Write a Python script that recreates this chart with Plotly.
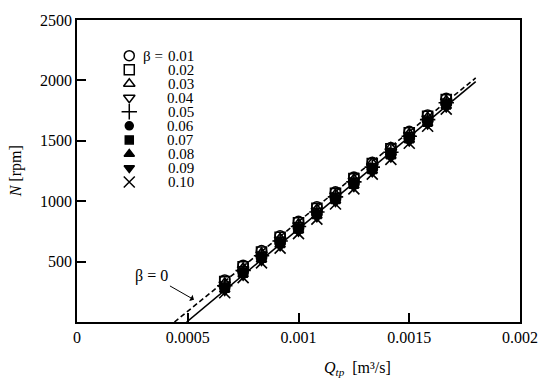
import plotly.graph_objects as go

# ---- data ----
q_vals = [0.000667, 0.00075, 0.000833, 0.000917, 0.001, 0.001083, 0.001167,
          0.00125, 0.001333, 0.001417, 0.0015, 0.001583, 0.001667]
betas = ["0.01", "0.02", "0.03", "0.04", "0.05", "0.06", "0.07", "0.08", "0.09", "0.10"]
n_b01 = [348, 470, 592, 714, 834, 954, 1077, 1199, 1322, 1444, 1578, 1714, 1852]
n_b02 = [334, 457, 579, 701, 821, 941, 1065, 1187, 1311, 1433, 1567, 1703, 1841]
n_b03 = [322, 447, 570, 692, 812, 933, 1058, 1182, 1318, 1445, 1560, 1695, 1834]
n_b04 = [310, 436, 558, 680, 800, 920, 1046, 1170, 1292, 1415, 1548, 1685, 1825]
n_b05 = [300, 426, 548, 670, 790, 910, 1036, 1160, 1282, 1405, 1538, 1675, 1815]
n_b06 = [290, 416, 538, 660, 780, 900, 1026, 1150, 1272, 1395, 1528, 1665, 1806]
n_b07 = [280, 405, 528, 650, 770, 890, 1015, 1140, 1262, 1385, 1518, 1655, 1797]
n_b08 = [270, 395, 518, 640, 760, 880, 1005, 1130, 1252, 1375, 1508, 1646, 1788]
n_b09 = [258, 383, 506, 628, 748, 868, 993, 1118, 1240, 1362, 1495, 1635, 1777]
n_b10 = [242, 367, 490, 612, 732, 852, 977, 1102, 1224, 1346, 1480, 1620, 1762]
series = [n_b01, n_b02, n_b03, n_b04, n_b05, n_b06, n_b07, n_b08, n_b09, n_b10]

# beta = 0 model lines
solid_q = [0.000495, 0.0018]
solid_n = [0, 1990]
dash_q = [0.00044, 0.0018]
dash_n = [0, 2020]

x_ticks = [0, 0.0005, 0.001, 0.0015, 0.002]
x_ticktext = ["0", "0.0005", "0.001", "0.0015", "0.002"]
y_ticks = [500, 1000, 1500, 2000, 2500]

symbols = ["circle-open", "square-open", "triangle-up-open", "triangle-down-open",
           "cross-thin-open", "circle", "square", "triangle-up", "triangle-down",
           "x-thin-open"]
sizes = [10, 10, 10, 10, 11, 8, 8, 9, 9, 11]

FONT = "Liberation Serif, Times New Roman, serif"

fig = go.Figure()

fig.add_trace(go.Scatter(x=solid_q, y=solid_n, mode="lines",
                         line=dict(color="black", width=1.6), showlegend=False))
fig.add_trace(go.Scatter(x=dash_q, y=dash_n, mode="lines",
                         line=dict(color="black", width=1.6, dash="5px,3px"),
                         showlegend=False))

for b, n, s, sz in zip(betas, series, symbols, sizes):
    fig.add_trace(go.Scatter(
        x=q_vals, y=n, mode="markers", name=b, showlegend=False,
        marker=dict(symbol=s, size=sz, color="black",
                    line=dict(color="black", width=1.6))))

# custom compact legend on hidden overlay axes
row_gap = 0.0465
leg_x = 0.118
leg_y0 = 0.882
for i, (b, s, sz) in enumerate(zip(betas, symbols, sizes)):
    yy = leg_y0 - i * row_gap
    fig.add_trace(go.Scatter(
        x=[leg_x], y=[yy], mode="markers", xaxis="x2", yaxis="y2",
        showlegend=False, hoverinfo="skip",
        marker=dict(symbol=s, size=sz, color="black",
                    line=dict(color="black", width=1.5))))
    fig.add_annotation(x=0.268, y=yy, xref="x2", yref="y2", text=b,
                       showarrow=False, xanchor="right", yanchor="middle",
                       font=dict(family=FONT, size=15, color="black"))
fig.add_annotation(x=0.145, y=leg_y0, xref="x2", yref="y2", text="β =",
                   showarrow=False, xanchor="left", yanchor="middle",
                   font=dict(family=FONT, size=15, color="black"))

# beta = 0 arrow annotation
fig.add_annotation(x=0.000528, y=185, xref="x", yref="y", text="β = 0",
                   showarrow=True, arrowhead=1, arrowsize=1.2, arrowwidth=1,
                   arrowcolor="black", ax=-42, ay=-24,
                   font=dict(family=FONT, size=16, color="black"))

# axis titles
fig.add_annotation(x=0.633, y=-0.115, xref="paper", yref="paper",
                   text="<i>Q</i><sub><i>tp</i></sub>  [m³/s]",
                   showarrow=False, xanchor="center", yanchor="top",
                   font=dict(family=FONT, size=16, color="black"))
fig.add_annotation(x=-0.137, y=0.5, xref="paper", yref="paper",
                   text="<i>N</i> [rpm]", textangle=-90,
                   showarrow=False, xanchor="center", yanchor="middle",
                   font=dict(family=FONT, size=16, color="black"))

axis_common = dict(showgrid=False, zeroline=False, showline=True, linecolor="black",
                   linewidth=1.5, mirror=True, ticks="inside", ticklen=9,
                   tickwidth=1.5, tickcolor="black",
                   tickfont=dict(family=FONT, size=16, color="black"))

fig.update_layout(
    width=550, height=386,
    margin=dict(l=77, r=25, t=16, b=64),
    paper_bgcolor="white", plot_bgcolor="white",
    showlegend=False,
    xaxis=dict(range=[0, 0.002], tickvals=x_ticks, ticktext=x_ticktext, **axis_common),
    yaxis=dict(range=[0, 2500], tickvals=y_ticks, **axis_common),
    xaxis2=dict(range=[0, 1], overlaying="x", visible=False, fixedrange=True),
    yaxis2=dict(range=[0, 1], overlaying="y", visible=False, fixedrange=True),
)

fig.write_html("out.html", config={"displayModeBar": False},
               post_script="document.body.style.margin='0px';document.body.style.overflow='hidden';")
